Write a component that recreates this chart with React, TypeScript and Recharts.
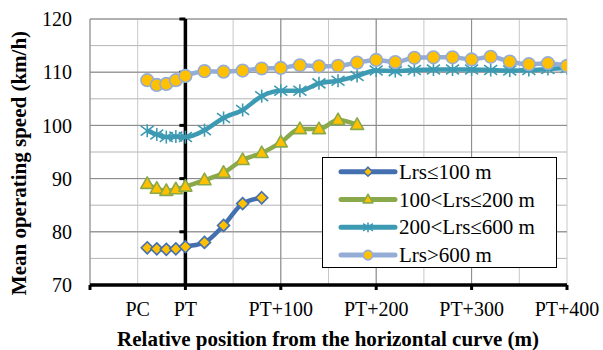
import React from 'react';
import { LineChart, Line, XAxis, YAxis, CartesianGrid, ReferenceLine, ReferenceDot } from 'recharts';

// ---- data ----
const blueX = [-40, -30, -20, -10, 0, 20, 40, 60, 80];
const blueY = [77.0, 76.8, 76.7, 76.8, 77.2, 78.0, 81.2, 85.3, 86.4];

const greenX = [-40, -30, -20, -10, 0, 20, 40, 60, 80, 100, 120, 140, 160, 180];
const greenY = [89.0, 88.1, 87.7, 88.0, 88.5, 89.7, 91.1, 93.5, 94.8, 96.8, 99.3, 99.3, 101.0, 100.1];

const tealX = [-40, -30, -20, -10, 0, 20, 40, 60, 80, 100, 120, 140, 160, 180, 200, 220, 240, 260, 280, 300, 320, 340, 360, 380, 400];
const tealY = [99.0, 98.3, 97.8, 97.9, 97.8, 99.1, 101.4, 102.9, 105.5, 106.5, 106.5, 107.9, 108.4, 109.3, 110.3, 110.2, 110.4, 110.5, 110.5, 110.5, 110.4, 110.3, 110.4, 110.6, 110.8];

const orangeX = [-40, -30, -20, -10, 0, 20, 40, 60, 80, 100, 120, 140, 160, 180, 200, 220, 240, 260, 280, 300, 320, 340, 360, 380, 400];
const orangeY = [108.5, 107.6, 107.8, 108.5, 109.3, 110.2, 110.1, 110.3, 110.7, 110.8, 111.3, 111.1, 111.2, 111.8, 112.3, 111.9, 112.7, 112.8, 112.8, 112.4, 112.9, 112.0, 111.5, 111.7, 111.2];

const seriesNames = ['Lrs≤100 m', '100<Lrs≤200 m', '200<Lrs≤600 m', 'Lrs>600 m'];

const xGridTicks = [-100, -50, 0, 50, 100, 150, 200, 250, 300, 350, 400];
const xTickLabels: Record<number, string> = { [-50]: 'PC', 0: 'PT', 100: 'PT+100', 200: 'PT+200', 300: 'PT+300', 400: 'PT+400' };
const xMajor = [-100, 100, 200, 300];
const xTickMarks = [-100, 0, 100, 200, 300, 400];

const yGridTicks = [70, 75, 80, 85, 90, 95, 100, 105, 110, 115, 120];
const yMajor = [80, 90, 100, 110, 120];
const yLabelTicks = [70, 80, 90, 100, 110, 120];

const xTitle = 'Relative position from the horizontal curve (m)';
const yTitle = 'Mean operating speed (km/h)';

// ---- styles ----
const FONT = '"Liberation Serif", "Times New Roman", serif';
const YELLOW = '#FFC000';
const styles = [
  { color: '#4470B0', marker: 'diamond' },
  { color: '#89A94B', marker: 'triangle' },
  { color: '#3D9AB3', marker: 'star' },
  { color: '#95ADD6', marker: 'circle' },
];

const toData = (xs: number[], ys: number[]) => xs.map((x, i) => ({ x, y: ys[i] }));
const seriesData = [toData(blueX, blueY), toData(greenX, greenY), toData(tealX, tealY), toData(orangeX, orangeY)];

function Marker({ kind, cx, cy, color, s = 1 }: { kind: string; cx: number; cy: number; color: string; s?: number }) {
  if (cx == null || cy == null) return null;
  if (kind === 'diamond') {
    const d = 6 * s;
    return <polygon points={`${cx},${cy - d} ${cx + d},${cy} ${cx},${cy + d} ${cx - d},${cy}`} fill={YELLOW} stroke={color} strokeWidth={1.6} />;
  }
  if (kind === 'triangle') {
    const w = 6.5 * s;
    return <polygon points={`${cx},${cy - 7 * s} ${cx + w},${cy + 4.5 * s} ${cx - w},${cy + 4.5 * s}`} fill={YELLOW} stroke={color} strokeWidth={1.6} strokeLinejoin="round" />;
  }
  if (kind === 'star') {
    const r = 6.5 * s;
    return (
      <g stroke={color} strokeWidth={1.6}>
        <line x1={cx} y1={cy - r} x2={cx} y2={cy + r} />
        <line x1={cx - r} y1={cy - r * 0.75} x2={cx + r} y2={cy + r * 0.75} />
        <line x1={cx - r} y1={cy + r * 0.75} x2={cx + r} y2={cy - r * 0.75} />
      </g>
    );
  }
  return <circle cx={cx} cy={cy} r={6.3 * s} fill={YELLOW} stroke={color} strokeWidth={1.6} />;
}

const BottomTick = (p: any) => <line x1={p.cx} y1={p.cy} x2={p.cx} y2={p.cy + 5} stroke="#000" strokeWidth={3} />;
const LeftTick = (p: any) => <line x1={p.cx - 6} y1={p.cy} x2={p.cx} y2={p.cy} stroke="#000" strokeWidth={3} />;

export default function App() {
  return (
    <div style={{ position: 'absolute', left: 0, top: 0, width: 603, height: 350, background: '#fff', fontFamily: FONT }}>
      <LineChart width={603} height={350} margin={{ top: 19, right: 36, left: 0, bottom: 35 }}>
        <CartesianGrid vertical={false} stroke="#b4b4b4" strokeWidth={1} />
        <CartesianGrid horizontal={false} stroke="#c8c8c8" strokeWidth={1} />
        <XAxis
          type="number"
          dataKey="x"
          domain={[-100, 400]}
          ticks={xGridTicks}
          interval={0}
          allowDataOverflow
          height={30}
          tickSize={0}
          tickMargin={17}
          tickLine={false}
          axisLine={{ stroke: '#000', strokeWidth: 3.5 }}
          tickFormatter={(v: number) => xTickLabels[v] ?? ''}
          tick={{ fontSize: 20, fill: '#000', fontFamily: FONT }}
        />
        <YAxis
          type="number"
          domain={[70, 120]}
          ticks={yGridTicks}
          interval={0}
          allowDataOverflow
          width={90}
          tickSize={0}
          tickMargin={18}
          tickLine={false}
          axisLine={false}
          tickFormatter={(v: number) => (yLabelTicks.includes(v) ? String(v) : '')}
          tick={{ fontSize: 20, fill: '#000', fontFamily: FONT }}
        />
        {yMajor.map((v) => (
          <ReferenceLine key={'ym' + v} y={v} stroke="#888" strokeWidth={1} />
        ))}
        {xMajor.map((v) => (
          <ReferenceLine key={'xm' + v} x={v} stroke="#888" strokeWidth={1} />
        ))}
        <ReferenceLine x={0} stroke="#000" strokeWidth={3.5} />
        {yMajor.map((v) => (
          <ReferenceDot key={'yt' + v} x={0} y={v} r={0} shape={LeftTick} />
        ))}
        {xTickMarks.map((v) => (
          <ReferenceDot key={'xt' + v} x={v} y={70} r={0} shape={BottomTick} />
        ))}
        {seriesData.map((d, i) => (
          <Line
            key={seriesNames[i]}
            data={d}
            dataKey="y"
            name={seriesNames[i]}
            type="monotone"
            stroke={styles[i].color}
            strokeWidth={4.5}
            isAnimationActive={false}
            activeDot={false}
            dot={(p: any) => <Marker key={'m' + i + '-' + p.index} kind={styles[i].marker} cx={p.cx} cy={p.cy} color={styles[i].color} />}
          />
        ))}
      </LineChart>
      <svg width={603} height={350} style={{ position: 'absolute', left: 0, top: 0, pointerEvents: 'none' }}>
        <text x={328} y={346} textAnchor="middle" fontFamily={FONT} fontWeight="bold" fontSize={21} fill="#000">
          {xTitle}
        </text>
        <text transform="translate(26,163) rotate(-90)" textAnchor="middle" fontFamily={FONT} fontWeight="bold" fontSize={21} fill="#000">
          {yTitle}
        </text>
        <rect x={322.5} y={157.5} width={234} height={110} fill="#fff" stroke="#000" strokeWidth={1} />
        {seriesNames.map((n, i) => {
          const cy = 171.7 + i * 27.8;
          return (
            <g key={n}>
              <line x1={341} y1={cy} x2={395} y2={cy} stroke={styles[i].color} strokeWidth={5} strokeLinecap="round" />
              <Marker kind={styles[i].marker} cx={368} cy={cy} color={styles[i].color} s={0.75} />
              <text x={399} y={cy + 7} fontFamily={FONT} fontSize={21} fill="#000">
                {n}
              </text>
            </g>
          );
        })}
      </svg>
    </div>
  );
}
